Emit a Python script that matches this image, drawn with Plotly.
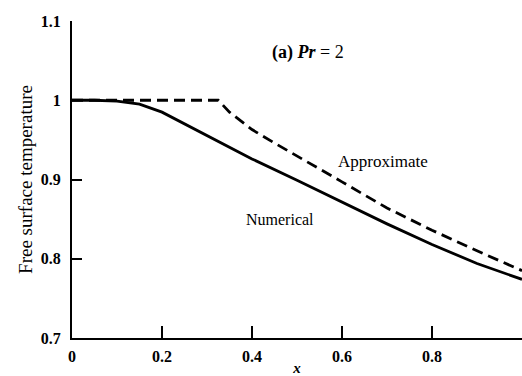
import plotly.graph_objects as go

# Free surface temperature along x, Pr = 2
x_numerical = [0.0, 0.05, 0.1, 0.15, 0.2, 0.25, 0.3, 0.35, 0.4, 0.5, 0.6, 0.7, 0.8, 0.9, 1.0]
t_numerical = [1.0, 1.0, 0.999, 0.995, 0.985, 0.970, 0.956, 0.940, 0.926, 0.899, 0.871, 0.844, 0.818, 0.794, 0.774]

x_approx = [0.0, 0.325, 0.35, 0.4, 0.45, 0.5, 0.6, 0.7, 0.8, 0.9, 1.0]
t_approx = [1.0, 1.0, 0.985, 0.963, 0.946, 0.930, 0.897, 0.864, 0.836, 0.810, 0.785]

x_ticks = [0, 0.2, 0.4, 0.6, 0.8]
x_tick_text = ["0", "0.2", "0.4", "0.6", "0.8"]
y_ticks = [0.7, 0.8, 0.9, 1.0, 1.1]
y_tick_text = ["0.7", "0.8", "0.9", "1", "1.1"]

serif = "Liberation Serif"

fig = go.Figure()
fig.add_trace(go.Scatter(x=x_numerical, y=t_numerical, mode="lines",
                         line=dict(color="black", width=2.8), name="Numerical"))
fig.add_trace(go.Scatter(x=x_approx, y=t_approx, mode="lines",
                         line=dict(color="black", width=2.8, dash="11px,6px"), name="Approximate"))

fig.add_annotation(x=0.525, y=1.06, text="<b>(a) <i>Pr</i></b> = 2", showarrow=False,
                   font=dict(family=serif, size=18, color="black"))
fig.add_annotation(x=0.69, y=0.9225, text="Approximate", showarrow=False,
                   font=dict(family=serif, size=17, color="black"))
fig.add_annotation(x=0.462, y=0.849, text="Numerical", showarrow=False,
                   font=dict(family=serif, size=16, color="black"))

fig.update_layout(
    width=522, height=376,
    margin=dict(l=72, r=0, t=21, b=35),
    paper_bgcolor="white", plot_bgcolor="white",
    showlegend=False,
    xaxis=dict(range=[0, 1], tickvals=x_ticks, ticktext=x_tick_text,
               ticks="inside", ticklen=12, tickwidth=1.5, tickcolor="black",
               showline=True, linecolor="black", linewidth=2, showgrid=False, zeroline=False,
               ticklabelstandoff=3,
               tickfont=dict(family=serif, size=16, color="black", weight="bold"),
               title=dict(text="<b><i>x</i></b>", font=dict(family=serif, size=15, color="black"), standoff=0)),
    yaxis=dict(range=[0.7, 1.1], tickvals=y_ticks, ticktext=y_tick_text,
               ticks="inside", ticklen=10, tickwidth=1.5, tickcolor="black",
               showline=True, linecolor="black", linewidth=2, showgrid=False, zeroline=False,
               ticklabelstandoff=6,
               tickfont=dict(family=serif, size=16, color="black", weight="bold"),
               title=dict(text="Free surface temperature", font=dict(family=serif, size=19, color="black"), standoff=3)),
)

fig.write_html("out.html")
